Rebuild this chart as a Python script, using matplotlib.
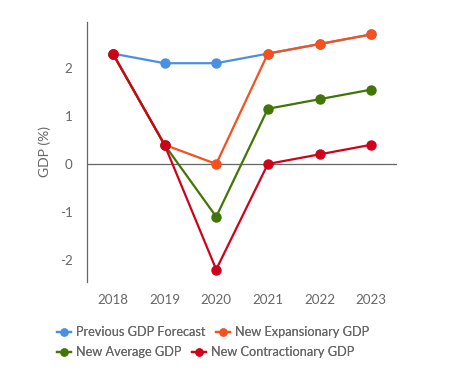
import matplotlib.pyplot as plt
from matplotlib.lines import Line2D

years = ['2018', '2019', '2020', '2021', '2022', '2023']
previous = [2.3, 2.1, 2.1, 2.3, 2.5, 2.7]
expansionary = [2.3, 0.4, 0.0, 2.3, 2.5, 2.7]
average = [2.3, 0.4, -1.1, 1.15, 1.35, 1.55]
contractionary = [2.3, 0.4, -2.2, 0.0, 0.2, 0.4]

series = [
    ('Previous GDP Forecast', previous, '#4a90e2'),
    ('New Expansionary GDP', expansionary, '#f4511e'),
    ('New Average GDP', average, '#417505'),
    ('New Contractionary GDP', contractionary, '#d0021b'),
]

plt.rcParams['font.family'] = ['Lato', 'DejaVu Sans']
plt.rcParams['axes.unicode_minus'] = False
grey = '#666666'

fig = plt.figure(figsize=(4.52, 3.72), dpi=100)
ax = fig.add_axes([0.1925, 0.242, 0.686, 0.699])

x = list(range(len(years)))
for name, vals, col in series:
    ax.plot(x, vals, color=col, lw=1.6, marker='o', ms=6.5, label=name)

ax.axhline(0, color=grey, lw=0.9, zorder=1)
ax.set_xlim(-0.5, 5.5)
ax.set_ylim(-2.46, 2.96)
ax.set_yticks([-2, -1, 0, 1, 2])
ax.set_xticks(x)
ax.set_xticklabels(years)
for s in ['top', 'right', 'bottom']:
    ax.spines[s].set_visible(False)
ax.spines['left'].set_color(grey)
ax.spines['left'].set_linewidth(0.9)
ax.tick_params(length=0, colors=grey, labelsize=9.6)
ax.tick_params(axis='y', pad=10.5)
ax.tick_params(axis='x', pad=9)
ax.set_ylabel('GDP (%)', color=grey, fontsize=10, labelpad=6)

handles = [Line2D([0], [0], color=c, lw=1.6, marker='o', ms=5) for _, _, c in series]
labels = [n for n, _, _ in series]

# two rows, each laid out on its own like the original
for row, ypos in [([0, 1], 0.123), ([2, 3], 0.069)]:
    leg = fig.legend([handles[i] for i in row], [labels[i] for i in row], ncol=2,
                     loc='upper left', bbox_to_anchor=(0.126, ypos), frameon=False,
                     fontsize=9.2, labelcolor=grey, handlelength=1.1, handletextpad=0.4,
                     columnspacing=0.8, borderpad=0, borderaxespad=0)
    fig.add_artist(leg)

fig.savefig('out.png', dpi=100)
